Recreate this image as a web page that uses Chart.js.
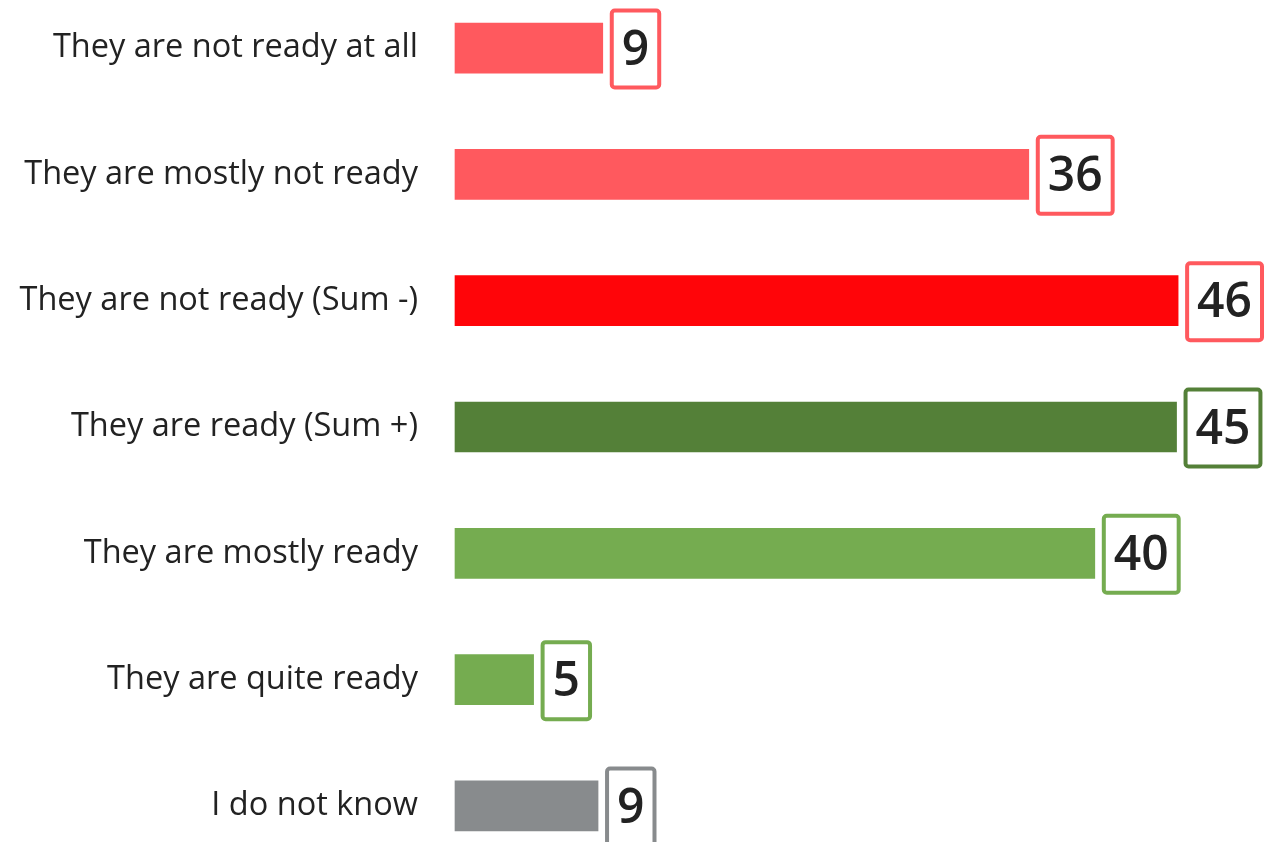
<!DOCTYPE html>
<html>
<head>
<meta charset="utf-8">
<script src="https://cdn.jsdelivr.net/npm/chart.js@4/dist/chart.umd.min.js"></script>
<style>
  html, body { margin: 0; padding: 0; background: #fff; overflow: hidden; }
  #wrap { width: 1271px; height: 854px; }
</style>
</head>
<body>
<div id="wrap"><canvas id="chart"></canvas></div>
<script>
const categories = [
  "They are not ready at all",
  "They are mostly not ready",
  "They are not ready (Sum -)",
  "They are ready (Sum +)",
  "They are mostly ready",
  "They are quite ready",
  "I do not know",
];
const values = [9.4, 36.5, 46, 45.9, 40.7, 5, 9.1];
const valueLabels = ["9", "36", "46", "45", "40", "5", "9"];

const barColors = ["#FF595E", "#FF595E", "#FF0509", "#548038", "#75AC50", "#75AC50", "#888B8D"];
const boxColors = ["#FF595E", "#FF595E", "#FF595E", "#548038", "#75AC50", "#75AC50", "#888B8D"];

// boxed value label at the end of each bar
const valueBoxes = {
  id: "valueBoxes",
  afterDatasetsDraw(chart) {
    const ctx = chart.ctx;
    const meta = chart.getDatasetMeta(0);
    ctx.save();
    ctx.font = "600 48px 'Open Sans'";
    ctx.textAlign = "center";
    ctx.textBaseline = "middle";
    meta.data.forEach((bar, i) => {
      const text = valueLabels[i];
      const w = ctx.measureText(text).width + 20;
      const h = 77;
      const x = bar.x + 9;
      const y = bar.y - h / 2 + 1;
      ctx.lineWidth = 4;
      ctx.strokeStyle = boxColors[i];
      ctx.fillStyle = "#fff";
      ctx.beginPath();
      ctx.roundRect(x, y, w, h, 3);
      ctx.fill();
      ctx.stroke();
      ctx.fillStyle = "#222";
      ctx.fillText(text, x + w / 2, bar.y + 3);
    });
    ctx.restore();
  },
};

new Chart(document.getElementById("chart"), {
  type: "bar",
  data: {
    labels: categories,
    datasets: [
      {
        data: values,
        backgroundColor: barColors,
        barThickness: 50,
        clip: false,
      },
    ],
  },
  options: {
    indexAxis: "y",
    responsive: true,
    maintainAspectRatio: false,
    animation: false,
    layout: { padding: { top: 0, bottom: 0, right: 30, left: 0 } },
    plugins: { legend: { display: false }, tooltip: { enabled: false } },
    scales: {
      x: { display: false, min: 0, max: 50 },
      y: {
        offset: false,
        grid: { display: false, drawTicks: false },
        border: { display: false },
        ticks: {
          padding: 37,
          color: "#222",
          font: { family: "Open Sans", size: 32.5, weight: 500, lineHeight: 0.68 },
        },
        afterFit(scale) {
          scale.width = 455;
        },
      },
    },
  },
  plugins: [valueBoxes],
});
</script>
</body>
</html>
